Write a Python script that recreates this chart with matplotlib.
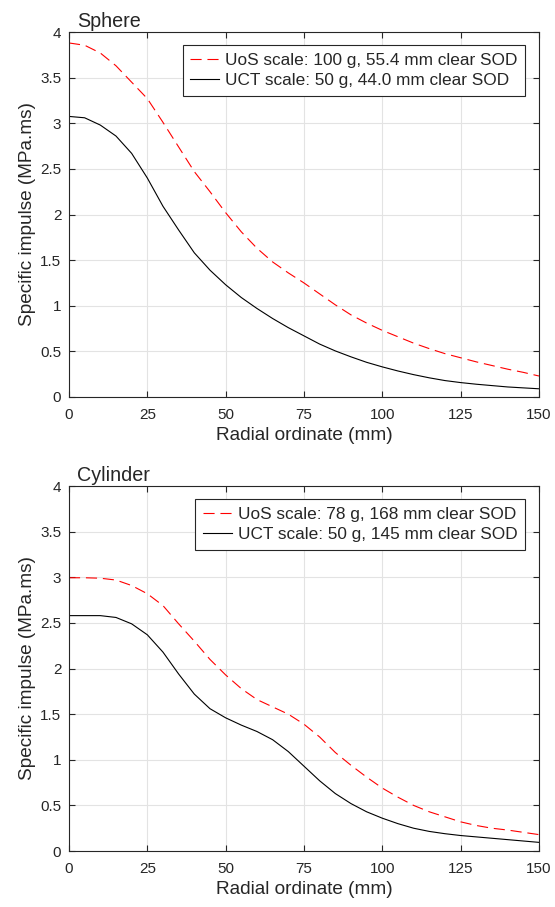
import matplotlib
matplotlib.use("Agg")
import matplotlib.pyplot as plt
import numpy as np

plt.rcParams['font.family'] = ['Liberation Sans', 'DejaVu Sans']
plt.rcParams['lines.scale_dashes'] = False

# radial ordinate (mm), sampled every 5 mm
radius = np.arange(0, 155, 5)

# sphere: specific impulse (MPa.ms)
sph_uos = [3.88, 3.855, 3.77, 3.63, 3.45, 3.27, 3.01, 2.74, 2.47, 2.25, 2.02,
           1.81, 1.63, 1.48, 1.36, 1.25, 1.13, 1.01, 0.90, 0.81, 0.73,
           0.66, 0.59, 0.53, 0.475, 0.43, 0.385, 0.345, 0.305, 0.27, 0.23]
sph_uct = [3.075, 3.06, 2.98, 2.86, 2.67, 2.40, 2.09, 1.83, 1.58, 1.39, 1.23,
           1.09, 0.97, 0.86, 0.76, 0.67, 0.58, 0.505, 0.44, 0.38, 0.33,
           0.285, 0.245, 0.21, 0.18, 0.158, 0.14, 0.125, 0.11, 0.10, 0.09]

# cylinder: specific impulse (MPa.ms)
cyl_uos = [2.995, 2.995, 2.99, 2.97, 2.91, 2.82, 2.69, 2.49, 2.30, 2.10, 1.93,
           1.78, 1.66, 1.58, 1.50, 1.39, 1.25, 1.08, 0.94, 0.81, 0.69,
           0.59, 0.50, 0.43, 0.375, 0.32, 0.28, 0.25, 0.23, 0.205, 0.18]
cyl_uct = [2.58, 2.58, 2.58, 2.56, 2.49, 2.37, 2.18, 1.94, 1.72, 1.56, 1.46,
           1.38, 1.31, 1.22, 1.09, 0.93, 0.77, 0.63, 0.52, 0.43, 0.36,
           0.30, 0.25, 0.215, 0.19, 0.17, 0.155, 0.14, 0.125, 0.11, 0.095]

panels = [
    ("Sphere", sph_uos, sph_uct,
     "UoS scale: 100 g, 55.4 mm clear SOD", "UCT scale: 50 g, 44.0 mm clear SOD"),
    ("Cylinder", cyl_uos, cyl_uct,
     "UoS scale: 78 g, 168 mm clear SOD", "UCT scale: 50 g, 145 mm clear SOD"),
]

xticks = [0, 25, 50, 75, 100, 125, 150]
yticks = [0, 0.5, 1, 1.5, 2, 2.5, 3, 3.5, 4]
ytick_labels = ["0", "0.5", "1", "1.5", "2", "2.5", "3", "3.5", "4"]

ink = "#262626"

fig = plt.figure(figsize=(5.55, 9.07), dpi=100)
boxes = [[0.1243, 0.5623, 0.8468, 0.4024], [0.1243, 0.0617, 0.8468, 0.4024]]

for box, (title, uos, uct, lab_uos, lab_uct) in zip(boxes, panels):
    ax = fig.add_axes(box)
    ax.plot(radius, uos, color="red", lw=0.8, dashes=(8, 4.2), label=lab_uos)
    ax.plot(radius, uct, color="black", lw=0.8, label=lab_uct)

    ax.set_xlim(0, 150)
    ax.set_ylim(0, 4)
    ax.set_xticks(xticks)
    ax.set_yticks(yticks)
    ax.set_yticklabels(ytick_labels)
    ax.grid(True, color="#e3e3e3", lw=0.8)
    ax.set_axisbelow(True)
    ax.tick_params(direction="in", top=True, right=True, length=4,
                   width=0.8, color=ink, labelcolor=ink, labelsize=11)
    ax.tick_params(axis="x", pad=8)
    ax.tick_params(axis="y", pad=5.5)
    for sp in ax.spines.values():
        sp.set_color(ink)
        sp.set_linewidth(0.8)

    ax.set_xlabel("Radial ordinate (mm)", fontsize=13.7, color=ink, labelpad=3.5)
    ax.set_ylabel("Specific impulse (MPa.ms)", fontsize=13.7, color=ink, labelpad=3)
    ax.text(0.017, 1.015, title, transform=ax.transAxes, ha="left", va="baseline",
            fontsize=14.2, color=ink)

    leg = ax.legend(loc="upper right", bbox_to_anchor=(0.9702, 0.9644),
                    borderaxespad=0, fontsize=12.4, frameon=True, fancybox=False,
                    handlelength=1.65, handletextpad=0.35,
                    borderpad=0.45, labelspacing=0.3)
    leg.get_frame().set_edgecolor(ink)
    leg.get_frame().set_linewidth(0.8)
    leg.get_frame().set_alpha(1)
    for t in leg.get_texts():
        t.set_color(ink)

fig.savefig("out.png", dpi=100)
